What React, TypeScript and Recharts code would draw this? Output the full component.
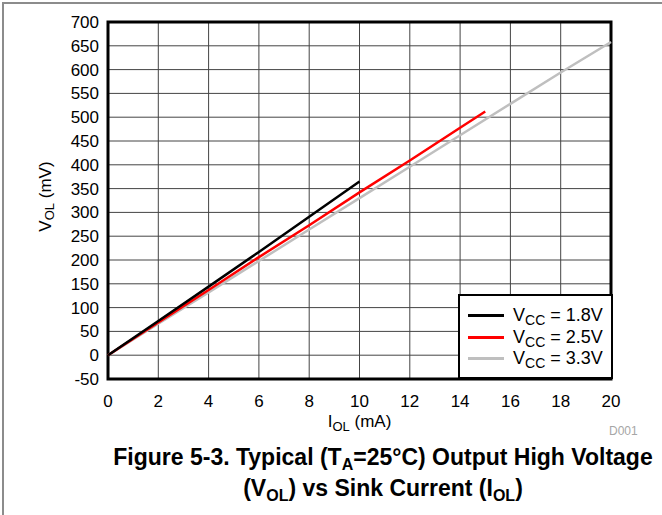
import {
  LineChart,
  Line,
  XAxis,
  YAxis,
  CartesianGrid,
  Legend,
  ReferenceArea,
} from "recharts";

// I_OL (mA) sample points and V_OL (mV)
const iol18 = [0, 2, 4, 6, 8, 10];
const vol18 = [0, 72, 144, 217, 291, 365];
const iol25 = [0, 2, 4, 6, 8, 10, 12, 14, 15];
const vol25 = [0, 69, 137, 206, 273, 342, 409, 478, 512];
const iol33 = [0, 2, 4, 6, 8, 10, 12, 14, 16, 18, 20];
const vol33 = [0, 66, 132, 198, 264, 330, 396, 462, 528, 594, 658];

const xTicks = [0, 2, 4, 6, 8, 10, 12, 14, 16, 18, 20];
const yTicks = [-50, 0, 50, 100, 150, 200, 250, 300, 350, 400, 450, 500, 550, 600, 650, 700];

const seriesLabels = ["1.8V", "2.5V", "3.3V"];
const seriesColors = ["#000000", "#ff0000", "#bfbfbf"];

const toPoints = (xs: number[], ys: number[]) => xs.map((x, i) => ({ x, y: ys[i] }));

const FONT = "'Liberation Sans', Arial, sans-serif";

const XLabel = (props: any) => {
  const { viewBox } = props;
  const cx = viewBox.x + viewBox.width / 2;
  return (
    <text x={cx} y={viewBox.y + 48} textAnchor="middle" fontSize={17} fill="#000">
      I
      <tspan fontSize={13} dy={4}>OL</tspan>
      <tspan dy={-4}> (mA)</tspan>
    </text>
  );
};

const YLabel = (props: any) => {
  const { viewBox } = props;
  const cx = 45;
  const cy = viewBox.y + viewBox.height / 2 - 4;
  return (
    <text
      x={cx}
      y={cy}
      transform={`rotate(-90 ${cx} ${cy})`}
      textAnchor="middle"
      dominantBaseline="central"
      fontSize={17}
      fill="#000"
    >
      V
      <tspan fontSize={13} dy={4}>OL</tspan>
      <tspan dy={-4}> (mV)</tspan>
    </text>
  );
};

const LegendBox = () => (
  <div
    style={{
      boxSizing: "border-box",
      width: 155,
      height: 85,
      border: "2px solid #000",
      background: "#fff",
      paddingTop: 9,
      fontSize: 18,
      fontFamily: FONT,
      color: "#000",
    }}
  >
    {seriesLabels.map((lab, i) => (
      <div key={lab} style={{ display: "flex", alignItems: "center", height: 21.5 }}>
        <div
          style={{
            marginLeft: 8,
            width: 36,
            height: 3,
            background: seriesColors[i],
          }}
        />
        <span style={{ marginLeft: 9, lineHeight: "20px", whiteSpace: "nowrap" }}>
          V<span style={{ fontSize: 14, position: "relative", top: 4 }}>CC</span> = {lab}
        </span>
      </div>
    ))}
  </div>
);

const sub = (t: string) => (
  <span style={{ fontSize: 16, position: "relative", top: 5 }}>{t}</span>
);

export default function App() {
  return (
    <div
      style={{
        position: "absolute",
        left: 0,
        top: 0,
        width: 662,
        height: 515,
        overflow: "hidden",
        background: "#fff",
        fontFamily: FONT,
      }}
    >
      <div
        style={{
          position: "absolute",
          left: 2,
          top: 2,
          width: 720,
          height: 600,
          borderTop: "2px solid #8c8c8c",
          borderLeft: "2px solid #8c8c8c",
        }}
      />
      <div style={{ position: "absolute", left: 0, top: 0 }}>
        <LineChart
          width={662}
          height={515}
          margin={{ top: 22, right: 51, bottom: 106, left: 48 }}
        >
          <CartesianGrid
            stroke="#444"
            strokeWidth={1}
            verticalValues={xTicks}
            horizontalValues={yTicks}
          />
          <XAxis
            type="number"
            dataKey="x"
            domain={[0, 20]}
            ticks={xTicks}
            interval={0}
            height={30}
            tickLine={false}
            axisLine={false}
            tickSize={0}
            tickMargin={16}
            tick={{ fontSize: 17, fill: "#000" }}
            allowDuplicatedCategory={false}
            label={{ content: XLabel }}
          />
          <YAxis
            type="number"
            dataKey="y"
            domain={[-50, 700]}
            ticks={yTicks}
            interval={0}
            width={60}
            tickLine={false}
            axisLine={false}
            tickSize={0}
            tickMargin={9}
            tick={{ fontSize: 17, fill: "#000" }}
            label={{ content: YLabel }}
          />
          <Line
            data={toPoints(iol33, vol33)}
            dataKey="y"
            type="linear"
            stroke={seriesColors[2]}
            strokeWidth={2.5}
            dot={false}
            isAnimationActive={false}
          />
          <Line
            data={toPoints(iol25, vol25)}
            dataKey="y"
            type="linear"
            stroke={seriesColors[1]}
            strokeWidth={2.5}
            dot={false}
            isAnimationActive={false}
          />
          <Line
            data={toPoints(iol18, vol18)}
            dataKey="y"
            type="linear"
            stroke={seriesColors[0]}
            strokeWidth={2.5}
            dot={false}
            isAnimationActive={false}
          />
          <ReferenceArea
            x1={0}
            x2={20}
            y1={-50}
            y2={700}
            fill="none"
            stroke="#000"
            strokeWidth={3}
            ifOverflow="visible"
          />
          <Legend
            layout="vertical"
            align="center"
            verticalAlign="middle"
            content={LegendBox}
            wrapperStyle={{ left: 458, top: 294, width: 155, height: 85 }}
          />
        </LineChart>
      </div>
      <div
        style={{
          position: "absolute",
          left: 609,
          top: 424,
          fontSize: 12,
          color: "#a6a6a6",
        }}
      >
        D001
      </div>
      <div
        style={{
          position: "absolute",
          left: 104,
          top: 443,
          width: 558,
          textAlign: "center",
          fontSize: 23,
          fontWeight: "bold",
          lineHeight: "28px",
          color: "#000",
          whiteSpace: "nowrap",
        }}
      >
        Figure 5-3. Typical (T{sub("A")}=25°C) Output High Voltage
        <br />({"V"}
        {sub("OL")}) vs Sink Current (I{sub("OL")})
      </div>
    </div>
  );
}
